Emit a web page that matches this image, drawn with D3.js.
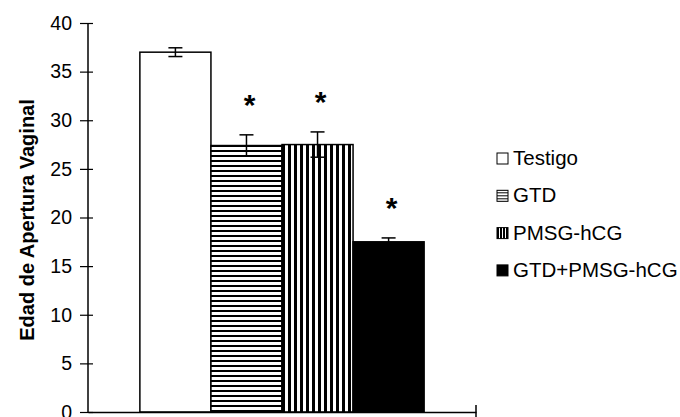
<!DOCTYPE html>
<html>
<head>
<meta charset="utf-8">
<script src="https://cdn.jsdelivr.net/npm/d3@7"></script>
<style>
  html, body { margin: 0; padding: 0; background: #fff; }
  svg { display: block; font-family: "Liberation Sans", Arial, sans-serif; }
</style>
</head>
<body>
<svg id="chart" width="680" height="417"></svg>
<script>
const categories = ["Testigo", "GTD", "PMSG-hCG", "GTD+PMSG-hCG"];
const values = [37.0, 27.4, 27.5, 17.5];
const errors = [0.45, 1.1, 1.3, 0.4];
const significant = [false, true, true, true];
const yTicks = [0, 5, 10, 15, 20, 25, 30, 35, 40];
const yTitle = "Edad de Apertura Vaginal";

const svg = d3.select("#chart");
const defs = svg.append("defs");

// patterns
const pH = defs.append("pattern").attr("id", "hlines").attr("patternUnits", "userSpaceOnUse")
  .attr("width", 6).attr("height", 5);
pH.append("rect").attr("width", 6).attr("height", 5).attr("fill", "#fff");
pH.append("rect").attr("y", 0).attr("width", 6).attr("height", 2).attr("fill", "#000");

const pV = defs.append("pattern").attr("id", "vlines").attr("patternUnits", "userSpaceOnUse")
  .attr("width", 6).attr("height", 6);
pV.append("rect").attr("width", 6).attr("height", 6).attr("fill", "#fff");
pV.append("rect").attr("x", 0).attr("width", 3).attr("height", 6).attr("fill", "#000");

const pHs = defs.append("pattern").attr("id", "hlinesSmall").attr("patternUnits", "userSpaceOnUse")
  .attr("width", 3).attr("height", 3);
pHs.append("rect").attr("width", 3).attr("height", 3).attr("fill", "#fff");
pHs.append("rect").attr("width", 3).attr("height", 1).attr("fill", "#000");
const pVs = defs.append("pattern").attr("id", "vlinesSmall").attr("patternUnits", "userSpaceOnUse")
  .attr("width", 3).attr("height", 3);
pVs.append("rect").attr("width", 3).attr("height", 3).attr("fill", "#fff");
pVs.append("rect").attr("width", 2).attr("height", 3).attr("fill", "#000");

const fills = ["#fff", "url(#hlines)", "url(#vlines)", "#000"];
const legendFills = ["#fff", "url(#hlinesSmall)", "url(#vlinesSmall)", "#000"];

const x0 = 88, x1 = 476, yBottom = 412, yTop = 23;
const x = d3.scaleBand().domain(categories).range([x0, x1]).paddingInner(0).paddingOuter(0.73);
const y = d3.scaleLinear().domain([0, 40]).range([yBottom, yTop]);

// bars
svg.append("g").selectAll("rect").data(categories).join("rect")
  .attr("x", d => x(d))
  .attr("y", (d, i) => y(values[i]))
  .attr("width", x.bandwidth())
  .attr("height", (d, i) => y(0) - y(values[i]))
  .attr("fill", (d, i) => fills[i])
  .attr("stroke", "#000").attr("stroke-width", 1.5);

// error bars
const eb = svg.append("g").attr("stroke", "#000").attr("stroke-width", 1.5);
categories.forEach((c, i) => {
  const cx = x(c) + x.bandwidth() / 2;
  const hi = y(values[i] + errors[i]), lo = y(values[i] - errors[i]);
  eb.append("line").attr("x1", cx).attr("x2", cx).attr("y1", hi).attr("y2", lo);
  eb.append("line").attr("x1", cx - 7).attr("x2", cx + 7).attr("y1", hi).attr("y2", hi);
  eb.append("line").attr("x1", cx - 7).attr("x2", cx + 7).attr("y1", lo).attr("y2", lo);
});

// asterisks
svg.append("g").selectAll("text").data(categories.filter((c, i) => significant[i])).join("text")
  .attr("x", d => x(d) + x.bandwidth() / 2 + 3)
  .attr("y", d => { const i = categories.indexOf(d); return y(values[i] + errors[i]) - 37 + 17; })
  .attr("text-anchor", "middle")
  .attr("font-size", 30).attr("font-weight", "bold")
  .text("*");

// y axis
const yAxis = svg.append("g").attr("transform", `translate(${x0},0)`)
  .call(d3.axisLeft(y).tickValues(yTicks).tickSize(8).tickPadding(8));
yAxis.select(".domain").attr("stroke", "#000").attr("stroke-width", 1.5).attr("d", `M0,${yBottom}V${yTop}`);
yAxis.selectAll(".tick line").attr("x1", 5).attr("stroke", "#000").attr("stroke-width", 1.2);
yAxis.selectAll(".tick text").attr("font-size", 19.5).attr("fill", "#000")
  .attr("font-family", "'Liberation Sans', Arial, sans-serif");

// x axis
const xAxis = svg.append("g").attr("transform", `translate(0,${yBottom})`)
  .call(d3.axisBottom(x).tickValues([]).tickSizeOuter(0));
xAxis.select(".domain").attr("stroke", "#000").attr("stroke-width", 1.5);
svg.append("line").attr("x1", x1).attr("x2", x1).attr("y1", yBottom - 7).attr("y2", yBottom + 6)
  .attr("stroke", "#000").attr("stroke-width", 1.5);

// y title
svg.append("text")
  .attr("transform", `translate(34,220) rotate(-90)`)
  .attr("text-anchor", "middle")
  .attr("font-size", 20).attr("font-weight", "bold")
  .text(yTitle);

// legend
const lg = svg.append("g").attr("transform", "translate(497,158)");
categories.forEach((c, i) => {
  const g = lg.append("g").attr("transform", `translate(0,${i * 37.3})`);
  g.append("rect").attr("x", 0).attr("y", -5).attr("width", 11).attr("height", 11)
    .attr("fill", legendFills[i]).attr("stroke", "#000").attr("stroke-width", 1);
  g.append("text").attr("x", 16).attr("y", 7).attr("font-size", 20.5).text(c);
});
</script>
</body>
</html>
